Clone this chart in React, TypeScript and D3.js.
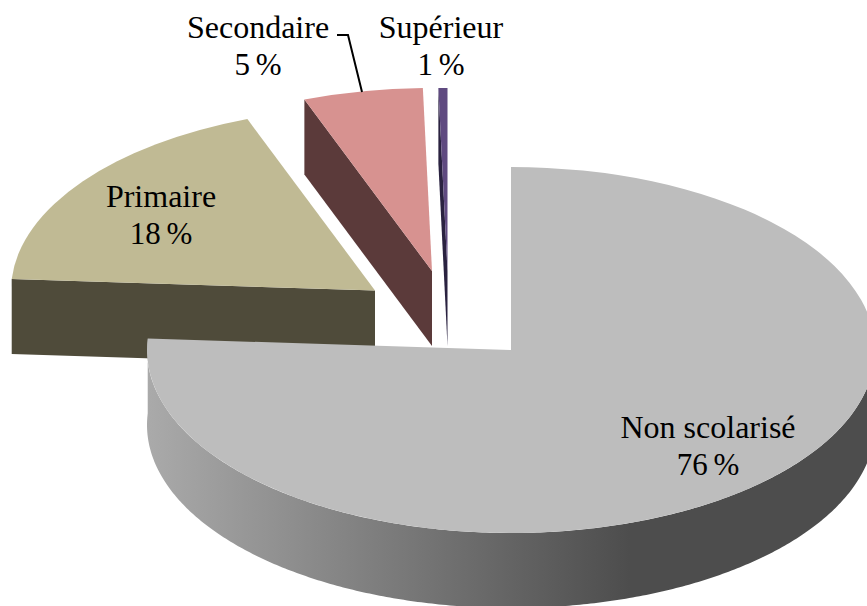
import React from "react";
import * as d3 from "d3";

// Data
const categories = ["Non scolarisé", "Primaire", "Secondaire", "Supérieur"];
const shares = [76, 18.3, 5.3, 0.4];
const percentLabels = ["76 %", "18 %", "5 %", "1 %"];

// Layout and styles
const W = 867, H = 606;
const RX = 364, RY = 183, DEPTH = 75;
const tips: [number, number][] = [[511, 350], [375, 290.5], [432, 271], [447.5, 271]];
const topColors = ["#bdbdbd", "#c0ba94", "#d79290", "#5f4a80"];
const sideColors = ["#a6a6a6", "#4f4b3a", "#5b3a3a", "#2a2240"];
const labelPos: [number, number][] = [[708, 438], [161, 207], [258, 38], [441, 38]];
const LINE = 37;

const TAU = Math.PI * 2;
const pieGen = d3.pie<number>().sort(null).value((d) => d);
const arcs = pieGen(shares);
const arcGen = d3.arc<any>().innerRadius(0).outerRadius(RX);
const lineGen = d3.line<[number, number]>();

const pt = (tip: [number, number], a: number, dy = 0): [number, number] => [
  tip[0] + RX * Math.sin(a),
  tip[1] - RY * Math.cos(a) + dy,
];

// Flat side face from the slice tip to its rim at angle a
const cutFace = (tip: [number, number], a: number) => {
  const p = pt(tip, a);
  return lineGen([tip, p, [p[0], p[1] + DEPTH], [tip[0], tip[1] + DEPTH]])! + "Z";
};

// Outer wall between two angles
const wall = (tip: [number, number], a0: number, a1: number) => {
  const angles = d3.range(a0, a1, 0.01).concat([a1]);
  const top = angles.map((a) => pt(tip, a));
  const bottom = angles.map((a) => pt(tip, a, DEPTH)).reverse();
  return lineGen([...top, ...bottom])! + "Z";
};

const gradStops: [number, string][] = [
  [0, "#aaaaaa"],
  [1, "#4d4d4d"],
];

export default function App() {
  const order = [1, 2, 3, 0];
  return (
    <svg
      width={W}
      height={H}
      viewBox={`0 0 ${W} ${H}`}
      style={{ position: "absolute", left: 0, top: 0, display: "block", background: "#fff" }}
    >
      <defs>
        <linearGradient id="wallGrad" gradientUnits="userSpaceOnUse" x1={147} x2={630} y1={0} y2={0}>
          {gradStops.map(([o, c]) => (
            <stop key={o} offset={o} stopColor={c} />
          ))}
        </linearGradient>
      </defs>
      {order.map((i) => {
        const d = arcs[i];
        const tip = tips[i];
        return (
          <g key={categories[i]}>
            {i === 0 ? (
              <path d={wall(tip, Math.PI / 2, Math.min(d.endAngle, TAU))} fill="url(#wallGrad)" />
            ) : (
              <path d={cutFace(tip, d.startAngle)} fill={sideColors[i]} />
            )}
            <path
              d={arcGen(d)!}
              fill={topColors[i]}
              transform={`translate(${tip[0]},${tip[1]}) scale(1,${RY / RX})`}
            />
          </g>
        );
      })}
      <polyline points="337,35 348,35 362,92" fill="none" stroke="#000" strokeWidth={2} />
      {categories.map((c, i) => (
        <text
          key={c}
          x={labelPos[i][0]}
          y={labelPos[i][1]}
          textAnchor="middle"
          fontFamily="'Liberation Serif', serif"
          fontSize={32}
          fill="#000"
        >
          <tspan x={labelPos[i][0]}>{c}</tspan>
          <tspan x={labelPos[i][0]} dy={LINE} fontSize={31} wordSpacing={-2}>{percentLabels[i]}</tspan>
        </text>
      ))}
    </svg>
  );
}
